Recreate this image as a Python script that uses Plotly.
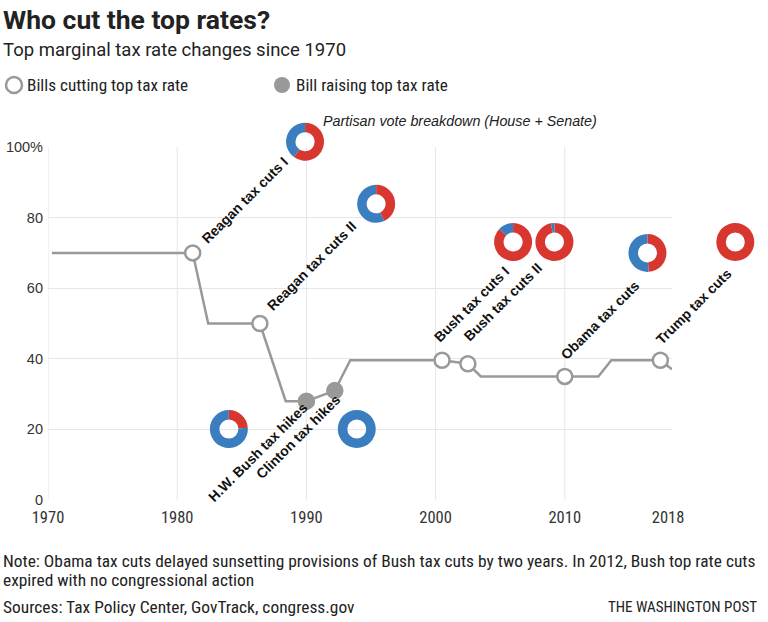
import plotly.graph_objects as go

# ---------------- data ----------------
rate_years = [1970.3, 1981.2, 1982.4, 1986.4, 1988.4, 1990.0, 1992.2, 1993.4,
              2000.5, 2002.5, 2003.5, 2010.0, 2012.6, 2013.6, 2017.4, 2018.3]
rate_values = [70, 70, 50, 50, 28, 28, 31, 39.6,
               39.6, 38.6, 35, 35, 35, 39.6, 39.6, 37]

bill_names = ["Reagan tax cuts I", "Reagan tax cuts II", "H.W. Bush tax hikes",
              "Clinton tax hikes", "Bush tax cuts I", "Bush tax cuts II",
              "Obama tax cuts", "Trump tax cuts"]
bill_years = [1981.2, 1986.4, 1990.0, 1992.2, 2000.5, 2002.5, 2010.0, 2017.4]
bill_rates = [70, 50, 28, 31, 39.6, 38.6, 35, 39.6]
bill_raises = [False, False, True, True, False, False, False, False]

# share of "yes" votes (House + Senate) by party, percent
rep_share = [60, 43, 24, 0, 87, 97, 49, 100]
dem_share = [40, 57, 76, 100, 13, 3, 51, 0]

x_tick_vals = [1970, 1980, 1990, 2000, 2010, 2018]
x_tick_text = ["1970", "1980", "1990", "2000", "2010", "2018"]
y_tick_vals = [0, 20, 40, 60, 80, 100]
y_tick_text = ["0", "20", "40", "60", "80", "100%"]
grid_years = [1970, 1980, 1990, 2000, 2010]

# ---------------- layout / style ----------------
W, H = 768, 622
ML, MR, MT, MB = 48, 10, 100, 122
PW, PH = W - ML - MR, H - MT - MB
X0, X1 = 1970, 2018.3
AX_RIGHT_PX = 672
AX_TOP_PX = 147
XDOM = (AX_RIGHT_PX - ML) / PW
YDOM = (H - MB - AX_TOP_PX) / PH

# donut placement (data coords) and label placement (side, xshift, yshift)
donut_pos = [(1989.9, 101.5), (1995.4, 83.9), (1984.0, 20.1), (1993.9, 20.1),
             (2006.0, 73.1), (2009.2, 73.1), (2016.4, 70.0), (2023.2, 73.1)]
label_place = [("above", 3, 4), ("above", 1, 7), ("below", 7, 5), ("below", 11, 2),
               ("above", -14, 12), ("above", -10, 17), ("above", -10, 11), ("above", -10, 10)]
DONUT_R = 19

RED = "#d8372f"
BLUE = "#3a7ebf"
GRAY = "#999999"
GRID = "#e6e6e6"
TXT = "#222222"
NARROW = "Roboto Condensed, Liberation Sans Narrow, Roboto, sans-serif"
ROBOTO = "Roboto, sans-serif"
SANS = "Liberation Sans, Arial, sans-serif"


def data_px(yr, rate):
    x = ML + (yr - X0) / (X1 - X0) * (AX_RIGHT_PX - ML)
    y = (H - MB) - rate / 100 * (H - MB - AX_TOP_PX)
    return x, y


def pfx(x):
    return (x - ML) / PW


def pfy(y):
    return (H - MB - y) / PH


fig = go.Figure()

# rate line
fig.add_trace(go.Scatter(x=rate_years, y=rate_values, mode="lines",
                         line=dict(color=GRAY, width=2.5), hoverinfo="skip",
                         showlegend=False))
# bill markers
fig.add_trace(go.Scatter(
    x=bill_years, y=bill_rates, mode="markers", showlegend=False,
    marker=dict(size=15, symbol="circle",
                color=[GRAY if r else "white" for r in bill_raises],
                line=dict(color=GRAY, width=2.5)),
    cliponaxis=False, hovertext=bill_names))

# donuts
for i, (yr, rt) in enumerate(donut_pos):
    cx, cy = data_px(yr, rt)
    r = DONUT_R
    fig.add_trace(go.Pie(
        values=[rep_share[i], dem_share[i]], labels=["Republican", "Democrat"],
        marker=dict(colors=[RED, BLUE], line=dict(width=0)),
        hole=0.5, sort=False, direction="clockwise", rotation=0,
        textinfo="none", showlegend=False,
        domain=dict(x=[pfx(cx - r), pfx(cx + r)], y=[pfy(cy + r), pfy(cy - r)])))

shapes = []
for gy in grid_years:
    shapes.append(dict(type="line", xref="x", yref="y", x0=gy, x1=gy, y0=0, y1=100,
                       line=dict(color=GRID, width=1), layer="below"))

# legend symbols
for (px, filled) in [(14, False), (282, True)]:
    shapes.append(dict(type="circle", xref="paper", yref="paper",
                       xsizemode="pixel", ysizemode="pixel",
                       xanchor=pfx(px), yanchor=pfy(85),
                       x0=-8, x1=8, y0=-8, y1=8,
                       fillcolor=GRAY if filled else "white",
                       line=dict(color=GRAY, width=2.5 if not filled else 0)))

annotations = []


def txt(text, x, y, size, family=NARROW, color=TXT, xanchor="left", **kw):
    annotations.append(dict(text=text, xref="paper", yref="paper", x=pfx(x), y=pfy(y),
                            xanchor=xanchor, yanchor="middle", showarrow=False,
                            borderpad=0,
                            font=dict(size=size, family=family, color=color), **kw))


txt("<b>Who cut the top rates?</b>", 2, 19, 26.5, family=ROBOTO)
txt("Top marginal tax rate changes since 1970", 2, 50, 18.5, family=ROBOTO)
txt("Bills cutting top tax rate", 26, 85, 17.2)
txt("Bill raising top tax rate", 295, 85, 17.2)
txt("<i>Partisan vote breakdown (House + Senate)</i>", 322, 121, 14.3, family=SANS)
txt("Note: Obama tax cuts delayed sunsetting provisions of Bush tax cuts by two years. In 2012, Bush top rate cuts",
    2, 561, 17.4)
txt("expired with no congressional action", 2, 580, 17.4)
txt("Sources: Tax Policy Center, GovTrack, congress.gov", 2, 607, 17.4)
txt("THE WASHINGTON POST", 758, 607, 15, xanchor="right")

for i, name in enumerate(bill_names):
    side, xs, ys = label_place[i]
    annotations.append(dict(
        text="<b>" + name + "</b>", xref="x", yref="y", x=bill_years[i], y=bill_rates[i],
        textangle=-45, showarrow=False,
        xanchor="left" if side == "above" else "right",
        yanchor="bottom" if side == "above" else "top",
        xshift=xs, yshift=ys,
        font=dict(size=14, family=SANS, color="#111111")))

fig.update_layout(
    width=W, height=H, margin=dict(l=ML, r=MR, t=MT, b=MB, autoexpand=False),
    paper_bgcolor="white", plot_bgcolor="white",
    shapes=shapes, annotations=annotations, showlegend=False,
    xaxis=dict(domain=[0, XDOM], range=[X0, X1], tickvals=x_tick_vals, ticktext=x_tick_text,
               showgrid=False, zeroline=False, showline=False, ticks="", automargin=False,
               ticklabelstandoff=5,
               tickfont=dict(family=NARROW, size=16.5, color="#333333")),
    yaxis=dict(domain=[0, YDOM], range=[0, 100], tickvals=y_tick_vals, ticktext=y_tick_text,
               showgrid=True, gridcolor=GRID, gridwidth=1, zeroline=False, showline=False,
               ticks="", ticklabelstandoff=4, automargin=False,
               tickfont=dict(family=SANS, size=14.5, color="#333333")),
)

fig.write_html("out.html", post_script="document.body.style.margin='0';",
               config={"displayModeBar": False})
